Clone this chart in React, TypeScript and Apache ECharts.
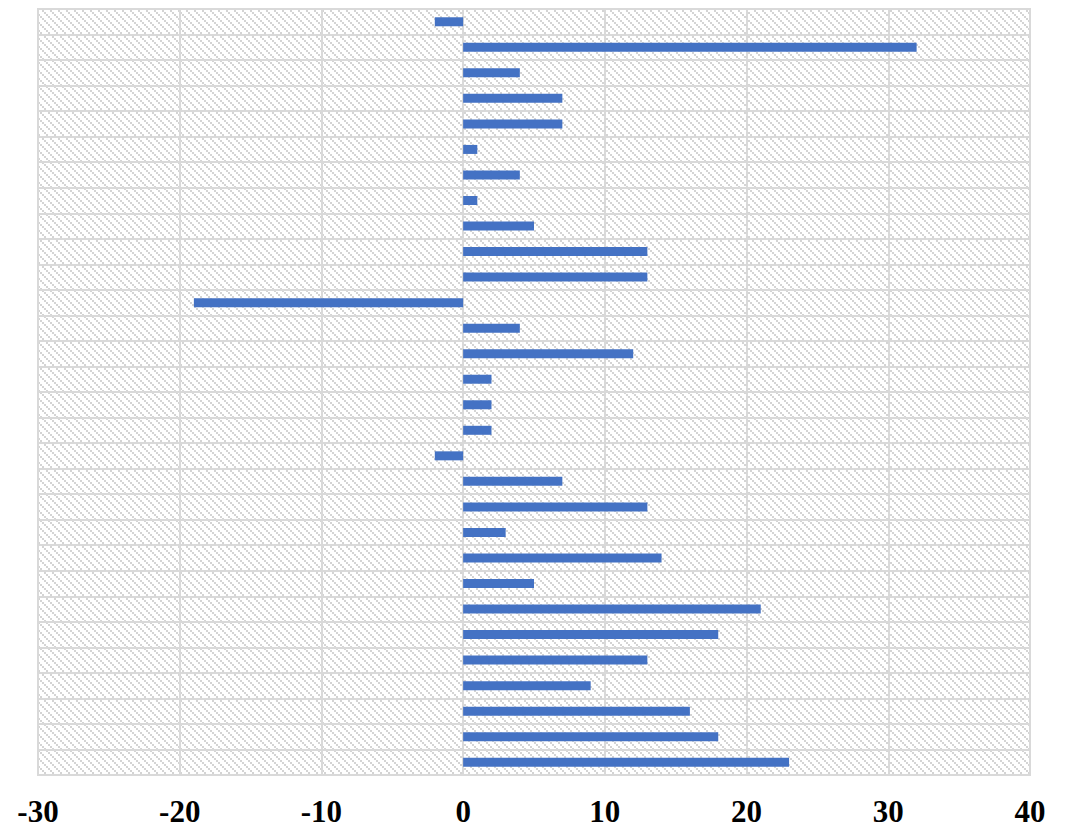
import React, { useEffect, useRef } from "react";
import * as echarts from "echarts";

const categories: string[] = Array.from({ length: 30 }, (_, i) => String(i + 1));
const values: number[] = [
  -2, 32, 4, 7, 7, 1, 4, 1, 5, 13, 13, -19, 4, 12, 2, 2, 2, -2, 7, 13, 3, 14, 5, 21, 18, 13, 9, 16, 18, 23,
];
const xMin = -30;
const xMax = 40;
const xInterval = 10;

function makePattern(): HTMLCanvasElement {
  const c = document.createElement("canvas");
  c.width = 8;
  c.height = 8;
  const ctx = c.getContext("2d")!;
  ctx.fillStyle = "#ffffff";
  ctx.fillRect(0, 0, 8, 8);
  ctx.fillStyle = "#d4d4d4";
  for (let k = 0; k < 4; k++) {
    ctx.fillRect(2 * k, 2 * k, 2, 2);
  }
  return c;
}

export default function App() {
  const ref = useRef<HTMLDivElement>(null);
  useEffect(() => {
    if (!ref.current) return;
    const chart = echarts.init(ref.current, null, { renderer: "svg" });
    chart.setOption({
      animation: false,
      backgroundColor: "#ffffff",
      grid: {
        left: 38,
        right: 43,
        top: 9,
        bottom: 53,
        show: true,
        borderColor: "#d9d9d9",
        borderWidth: 2,
        backgroundColor: { image: makePattern(), repeat: "repeat" },
      },
      xAxis: {
        type: "value",
        min: xMin,
        max: xMax,
        interval: xInterval,
        axisLine: { show: false },
        axisTick: { show: false },
        splitLine: { show: true, lineStyle: { color: "#d9d9d9", width: 2 } },
        axisLabel: {
          color: "#000000",
          fontFamily: "Liberation Serif",
          fontWeight: "bold",
          fontSize: 31,
          margin: 21,
        },
      },
      yAxis: {
        type: "category",
        data: categories,
        inverse: true,
        axisLine: { show: false },
        axisTick: { show: false },
        axisLabel: { show: false },
        splitLine: { show: true, lineStyle: { color: "#d9d9d9", width: 2 } },
      },
      series: [
        {
          type: "bar",
          data: values,
          barWidth: 9,
          itemStyle: { color: "#4472C4" },
        },
      ],
    });
    return () => chart.dispose();
  }, []);
  return (
    <div
      ref={ref}
      style={{ position: "fixed", left: 0, top: 0, width: 1073, height: 828 }}
    />
  );
}
